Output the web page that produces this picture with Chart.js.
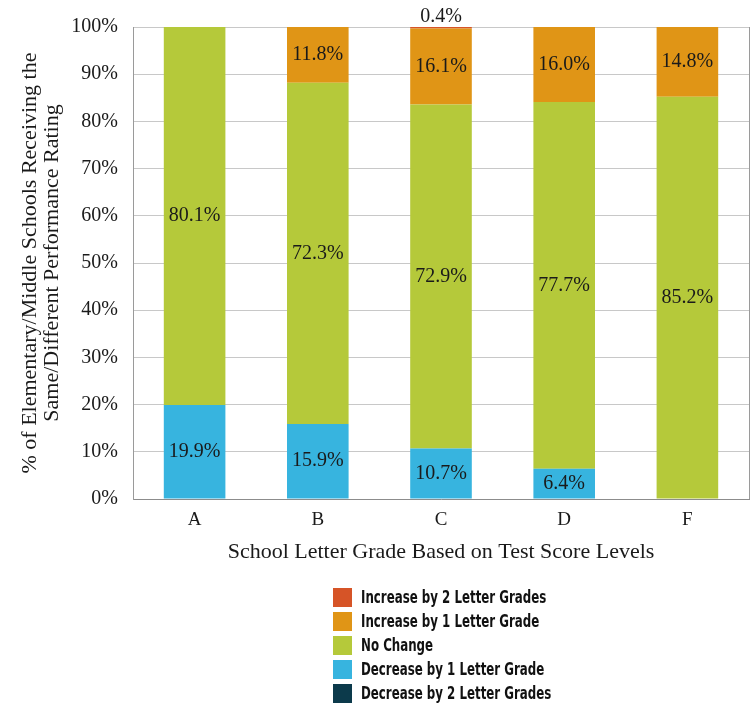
<!DOCTYPE html>
<html>
<head>
<meta charset="utf-8">
<script src="https://cdn.jsdelivr.net/npm/chart.js@4.4.1/dist/chart.umd.min.js"></script>
<style>
  html, body { margin: 0; padding: 0; background: #ffffff; }
  #wrap { width: 756px; height: 705px; position: relative; }
</style>
</head>
<body>
<div id="wrap"><canvas id="chart" width="756" height="705"></canvas></div>
<script>
// School letter grades (categories)
const grades = ['A', 'B', 'C', 'D', 'F'];

// Share of schools (%) by change in letter grade
const decreaseBy2 = [0, 0, 0, 0, 0];
const decreaseBy1 = [19.9, 15.9, 10.7, 6.4, 0];
const noChange    = [80.1, 72.3, 72.9, 77.7, 85.2];
const increaseBy1 = [0, 11.8, 16.1, 16.0, 14.8];
const increaseBy2 = [0, 0, 0.4, 0, 0];

const yTicks = [0, 10, 20, 30, 40, 50, 60, 70, 80, 90, 100];

const serif = '"Liberation Serif", "DejaVu Serif", serif';
const condensed = '"DejaVu Sans Condensed", "DejaVu Sans", sans-serif';

const datasets = [
  { label: 'Decrease by 2 Letter Grades', data: decreaseBy2, backgroundColor: '#0c3a4b' },
  { label: 'Decrease by 1 Letter Grade',  data: decreaseBy1, backgroundColor: '#37b4df' },
  { label: 'No Change',                   data: noChange,    backgroundColor: '#b5c93a' },
  { label: 'Increase by 1 Letter Grade',  data: increaseBy1, backgroundColor: '#e09516' },
  { label: 'Increase by 2 Letter Grades', data: increaseBy2, backgroundColor: '#d65427' }
];

// Value labels in the middle of each segment; tiny top segments go above the bar
const valueLabels = {
  id: 'valueLabels',
  afterDatasetsDraw(chart) {
    const ctx = chart.ctx;
    ctx.save();
    ctx.font = '20px ' + serif;
    ctx.fillStyle = '#1a1a1a';
    ctx.textAlign = 'center';
    ctx.textBaseline = 'middle';
    chart.data.datasets.forEach((ds, di) => {
      const meta = chart.getDatasetMeta(di);
      meta.data.forEach((bar, i) => {
        const v = ds.data[i];
        if (!v) return;
        const text = v.toFixed(1) + '%';
        if (v < 2) {
          ctx.fillText(text, bar.x, chart.chartArea.top - 10);
        } else {
          ctx.fillText(text, bar.x, (bar.y + bar.base) / 2);
        }
      });
    });
    ctx.restore();
  }
};

// Right frame line of the plot area
const frame = {
  id: 'frame',
  afterDraw(chart) {
    const { ctx, chartArea } = chart;
    ctx.save();
    ctx.strokeStyle = '#9a9a9a';
    ctx.lineWidth = 1;
    ctx.beginPath();
    ctx.moveTo(Math.round(chartArea.right) + 0.5, chartArea.top);
    ctx.lineTo(Math.round(chartArea.right) + 0.5, chartArea.bottom);
    ctx.stroke();
    ctx.restore();
  }
};

// Vertical legend below the chart, top entry = top of the stack
const stackLegend = {
  id: 'stackLegend',
  afterDraw(chart) {
    const ctx = chart.ctx;
    const items = chart.data.datasets.slice().reverse();
    const x0 = 333, y0 = 588, step = 24, box = 19;
    ctx.save();
    ctx.textAlign = 'left';
    ctx.textBaseline = 'middle';
    items.forEach((ds, k) => {
      const y = y0 + k * step;
      ctx.fillStyle = ds.backgroundColor;
      ctx.fillRect(x0, y, box, box);
      ctx.save();
      ctx.translate(x0 + 28, y + box / 2 + 1);
      ctx.scale(0.73, 1);
      ctx.font = 'bold 18px ' + condensed;
      ctx.fillStyle = '#111111';
      ctx.fillText(ds.label, 0, 0);
      ctx.restore();
    });
    ctx.restore();
  }
};

new Chart(document.getElementById('chart'), {
  type: 'bar',
  data: { labels: grades, datasets },
  options: {
    responsive: false,
    animation: false,
    layout: { padding: { top: 23, right: 7, left: 0, bottom: 0 } },
    plugins: {
      legend: { display: false },
      tooltip: { enabled: false }
    },
    datasets: {
      bar: { barPercentage: 0.5, categoryPercentage: 1.0, borderWidth: 0 }
    },
    scales: {
      x: {
        stacked: true,
        grid: { display: false, drawTicks: false },
        border: { color: '#8c8c8c', width: 1 },
        ticks: { color: '#1a1a1a', font: { family: serif, size: 19 }, padding: 10 },
        title: {
          display: true,
          text: 'School Letter Grade Based on Test Score Levels',
          color: '#1a1a1a',
          font: { family: serif, size: 22 },
          padding: { top: 0, bottom: 140 }
        },
        afterFit(scale) { scale.height = 206; }
      },
      y: {
        stacked: true,
        min: 0,
        max: 100,
        afterBuildTicks(scale) { scale.ticks = yTicks.map(v => ({ value: v })); },
        grid: { color: '#c8c8c8', lineWidth: 1, drawTicks: false },
        border: { color: '#9a9a9a', width: 1 },
        ticks: {
          color: '#1a1a1a',
          font: { family: serif, size: 20 },
          padding: 15,
          callback: v => v + '%'
        },
        title: {
          display: true,
          text: ['% of Elementary/Middle Schools Receiving the', 'Same/Different Performance Rating'],
          color: '#1a1a1a',
          font: { family: serif, size: 22, lineHeight: 1.0 },
          padding: { top: 19, bottom: 0 }
        },
        afterFit(scale) { scale.width = 133; }
      }
    }
  },
  plugins: [valueLabels, frame, stackLegend]
});
</script>
</body>
</html>
